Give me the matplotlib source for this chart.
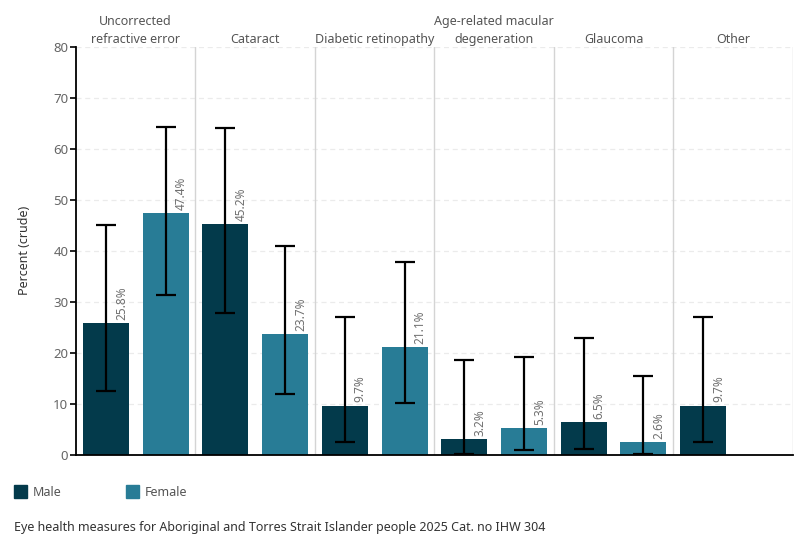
import numpy as np
import matplotlib.pyplot as plt

plt.rcParams['font.family'] = ['Noto Sans', 'DejaVu Sans']

# -----------------------------------------------------------------------------

categories = ['Uncorrected\nrefractive error', 'Cataract', 'Diabetic retinopathy',
              'Age-related macular\ndegeneration', 'Glaucoma', 'Other']

male = [25.8, 45.2, 9.7, 3.2, 6.5, 9.7]
male_lo = [12.5, 27.9, 2.5, 0.2, 1.1, 2.5]
male_hi = [45.1, 64.0, 27.0, 18.6, 23.0, 27.0]

female = [47.4, 23.7, 21.1, 5.3, 2.6, np.nan]
female_lo = [31.4, 11.9, 10.2, 0.9, 0.2, np.nan]
female_hi = [64.2, 40.9, 37.8, 19.2, 15.5, np.nan]

male_color = '#033a4b'
female_color = '#287c96'
text_grey = '#666666'

# -----------------------------------------------------------------------------

fig = plt.figure(figsize=(8, 5.5), dpi=100)
ax = fig.add_axes([0.095, 0.1727, 0.896, 0.7424])

n = len(categories)
x = np.arange(n)
w = 0.385


def draw(offset, vals, lo, hi, color):
    vals = np.array(vals)
    lo = np.array(lo)
    hi = np.array(hi)
    ok = ~np.isnan(vals)
    xs = x[ok] + offset
    ax.bar(xs, vals[ok], width=w, color=color, zorder=2)
    err = np.vstack([vals[ok] - lo[ok], hi[ok] - vals[ok]])
    ax.errorbar(xs, vals[ok], yerr=err, fmt='none', ecolor='black',
                elinewidth=1.6, capsize=7.5, capthick=1.6, zorder=3)
    for xi, v in zip(xs, vals[ok]):
        ax.text(xi + 0.13, v + 0.6, f'{v:.1f}%', rotation=90,
                ha='center', va='bottom', fontsize=8.5, color='#707070')


draw(0.25, male, male_lo, male_hi, male_color)
draw(0.75, female, female_lo, female_hi, female_color)

# panel dividers and headers
for i in range(1, n + 1):
    ax.axvline(i, color='#d4d4d4', linewidth=1, zorder=1)
for i, c in enumerate(categories):
    ax.text(i + 0.5, 80.2, c, ha='center', va='bottom', fontsize=9,
            color='#555555', linespacing=1.45)

ax.set_xlim(0, n)
ax.set_ylim(0, 80)
ax.set_xticks([])
ax.set_yticks(np.arange(0, 81, 10))
ax.tick_params(axis='y', labelsize=9.5, labelcolor=text_grey, length=4.5,
               width=1.2, color='black', pad=1)
ax.yaxis.grid(True, color='#ebebeb', linestyle=(0, (4, 3)), linewidth=0.9)
ax.set_axisbelow(True)

for s in ['top', 'right']:
    ax.spines[s].set_visible(False)
ax.spines['left'].set_linewidth(1.3)
ax.spines['bottom'].set_linewidth(1.3)

ax.set_ylabel('Percent (crude)', fontsize=9, fontweight='bold', color='#333333',
              labelpad=16)

# legend
fig.patches.append(plt.Rectangle((14 / 800, 1 - 498 / 550), 13 / 800, 13 / 550,
                                 transform=fig.transFigure, color=male_color))
fig.text(33 / 800, 1 - 492 / 550, 'Male', fontsize=9, color='#555555', va='center')
fig.patches.append(plt.Rectangle((126 / 800, 1 - 498 / 550), 13 / 800, 13 / 550,
                                 transform=fig.transFigure, color=female_color))
fig.text(145 / 800, 1 - 492 / 550, 'Female', fontsize=9, color='#555555', va='center')

fig.text(14 / 800, 1 - 527 / 550,
         'Eye health measures for Aboriginal and Torres Strait Islander people 2025 Cat. no IHW 304',
         fontsize=9, color='#333333', va='center')

fig.savefig('out.png', dpi=100)
